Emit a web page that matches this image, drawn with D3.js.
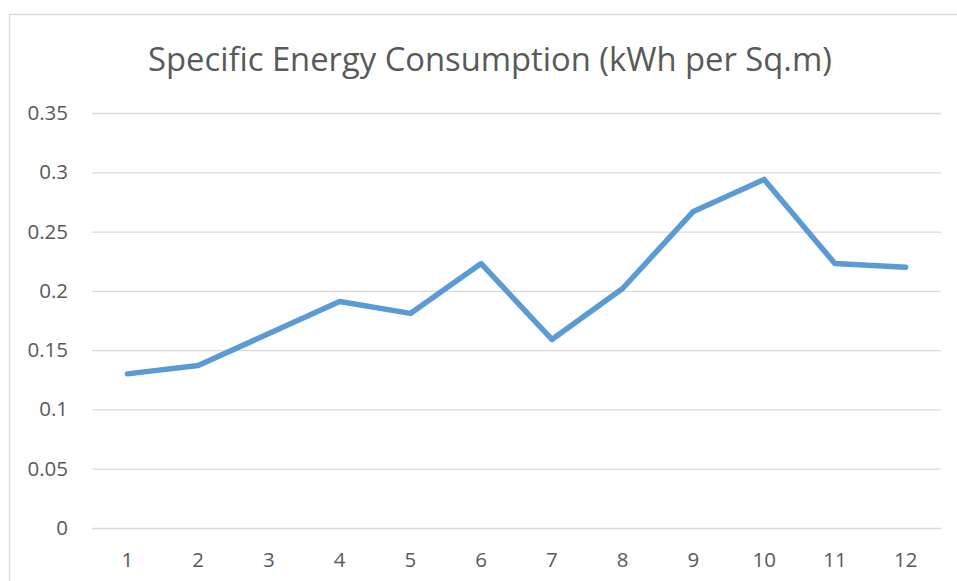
<!DOCTYPE html>
<html><head><meta charset="utf-8">
<script src="https://cdn.jsdelivr.net/npm/d3@7"></script>
<style>body{margin:0;background:#fff}svg{display:block}text{font-family:"Open Sans",Lato,sans-serif;fill:#595959}</style>
</head><body><div id="chart"></div>
<script>
const categories = ["1","2","3","4","5","6","7","8","9","10","11","12"];
const values = [0.130, 0.137, 0.164, 0.191, 0.181, 0.223, 0.159, 0.202, 0.267, 0.294, 0.223, 0.220];
const yTicks = [0, 0.05, 0.1, 0.15, 0.2, 0.25, 0.3, 0.35];
const title = "Specific Energy Consumption (kWh per Sq.m)";

const W = 957, H = 581;
const svg = d3.select("#chart").append("svg").attr("width", W).attr("height", H);
svg.append("rect").attr("x", 9.5).attr("y", 14.5).attr("width", W + 20).attr("height", H + 20)
  .attr("fill", "#fff").attr("stroke", "#d9d9d9").attr("stroke-width", 1.3);

const plot = {left: 92, right: 941, top: 113, bottom: 528};
const x = d3.scaleBand().domain(categories).range([plot.left, plot.right]);
const y = d3.scaleLinear().domain([0, 0.35]).range([plot.bottom, plot.top]);

const yAxis = svg.append("g").attr("transform", `translate(${plot.left},0)`)
  .call(d3.axisLeft(y).tickValues(yTicks).tickSize(-(plot.right - plot.left)).tickPadding(24).tickFormat(d => String(+d.toFixed(2))));
yAxis.select(".domain").remove();
yAxis.selectAll(".tick line").attr("stroke", "#d9d9d9").attr("stroke-width", 1.3);
yAxis.selectAll(".tick text").style("font-size", "20.5px").style("fill", "#595959");

const xAxis = svg.append("g").attr("transform", `translate(0,${plot.bottom})`)
  .call(d3.axisBottom(x).tickSize(0).tickPadding(24));
xAxis.select(".domain").remove();
xAxis.selectAll(".tick text").style("font-size", "20.5px").style("fill", "#595959");

const line = d3.line().x((d, i) => x(categories[i]) + x.bandwidth() / 2).y(d => y(d));
svg.append("path").datum(values).attr("d", line).attr("fill", "none")
  .attr("stroke", "#5B9BD5").attr("stroke-width", 5.5).attr("stroke-linejoin", "round").attr("stroke-linecap", "round");

const t = svg.append("text").attr("x", 490).attr("y", 71).attr("text-anchor", "middle")
  .style("font-size", "30px").style("font-weight", 400).text(title);
const len = t.node().getComputedTextLength();
t.style("font-size", (30 * 684 / len) + "px");
</script></body></html>
